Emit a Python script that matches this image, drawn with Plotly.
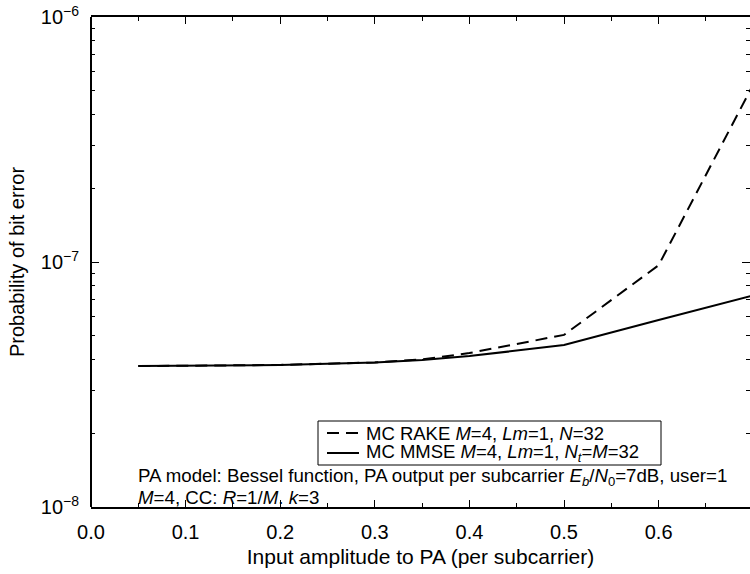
import plotly.graph_objects as go

x_vals = [0.05, 0.1, 0.2, 0.3, 0.35, 0.4, 0.5, 0.6, 0.7]
rake_ber = [3.76e-8, 3.78e-8, 3.80e-8, 3.89e-8, 4.0e-8, 4.25e-8, 5.04e-8, 9.7e-8, 5.3e-7]
mmse_ber = [3.76e-8, 3.78e-8, 3.80e-8, 3.89e-8, 3.98e-8, 4.13e-8, 4.58e-8, 5.8e-8, 7.3e-8]

x_tickvals = [0.0, 0.1, 0.2, 0.3, 0.4, 0.5, 0.6]
x_ticktext = ["0.0", "0.1", "0.2", "0.3", "0.4", "0.5", "0.6"]
y_tickvals = [1e-8, 1e-7, 1e-6]
y_ticktext = ["10<sup>\u22128</sup>", "10<sup>\u22127</sup>", "10<sup>\u22126</sup>"]
y_minor = [k * 10 ** e for e in (-8, -7) for k in range(2, 10)]

rake_name = "MC RAKE <i>M</i>=4, <i>Lm</i>=1, <i>N</i>=32"
mmse_name = "MC MMSE <i>M</i>=4, <i>Lm</i>=1, <i>N</i><sub><i>t</i></sub>=<i>M</i>=32"
note1 = "PA model: Bessel function, PA output per subcarrier <i>E</i><sub><i>b</i></sub>/<i>N</i><sub>0</sub>=7dB, user=1"
note2 = "<i>M</i>=4, CC: <i>R</i>=1/<i>M</i>. <i>k</i>=3"

FONT = "Liberation Sans, Arial, Helvetica, sans-serif"
DASH = "12px,7px"

# pixel -> paper helpers (plot area: x 91..750, y 17..507)
def px(p):
    return (p - 91) / 659.0

def py(p):
    return (507 - p) / 490.0

fig = go.Figure()
fig.add_trace(go.Scatter(x=x_vals, y=rake_ber, mode="lines", name=rake_name,
                         line=dict(color="black", width=2, dash=DASH)))
fig.add_trace(go.Scatter(x=x_vals, y=mmse_ber, mode="lines", name=mmse_name,
                         line=dict(color="black", width=2)))

shapes = [
    # left axis line
    dict(type="line", xref="paper", yref="paper", x0=0, x1=0, y0=0, y1=1,
         line=dict(color="black", width=2)),
    # legend box
    dict(type="rect", xref="paper", yref="paper", x0=px(318), x1=px(661), y0=py(465), y1=py(421),
         line=dict(color="black", width=1), fillcolor="white", layer="above"),
    dict(type="line", xref="paper", yref="paper", x0=px(327), x1=px(359), y0=py(433), y1=py(433),
         line=dict(color="black", width=2, dash=DASH), layer="above"),
    dict(type="line", xref="paper", yref="paper", x0=px(327), x1=px(359), y0=py(453), y1=py(453),
         line=dict(color="black", width=2), layer="above"),
]

annotations = [
    dict(text=rake_name, xref="paper", yref="paper", x=px(364), y=py(433),
         xanchor="left", yanchor="middle", showarrow=False, font=dict(size=18.5)),
    dict(text=mmse_name, xref="paper", yref="paper", x=px(364), y=py(453),
         xanchor="left", yanchor="middle", showarrow=False, font=dict(size=18.5)),
    dict(text=note1, xref="paper", yref="paper", x=px(136), y=py(477),
         xanchor="left", yanchor="middle", showarrow=False, font=dict(size=18.7)),
    dict(text=note2, xref="paper", yref="paper", x=px(136), y=py(497),
         xanchor="left", yanchor="middle", showarrow=False, font=dict(size=18.7)),
]

fig.update_layout(
    width=750, height=574,
    margin=dict(l=91, r=0, t=17, b=67),
    paper_bgcolor="white", plot_bgcolor="white",
    font=dict(family=FONT, size=20, color="black"),
    showlegend=False,
    xaxis=dict(range=[0, 0.6966], tickvals=x_tickvals, ticktext=x_ticktext,
               ticks="inside", ticklen=7, tickwidth=1, tickcolor="black",
               showline=True, linewidth=2, linecolor="black", mirror="ticks",
               showgrid=False, zeroline=False, ticklabelstandoff=6,
               minor=dict(dtick=0.05, tick0=0, ticks="inside", ticklen=4, tickcolor="black", showgrid=False),
               title=dict(text="Input amplitude to PA (per subcarrier)", font=dict(size=21), standoff=7)),
    yaxis=dict(type="log", range=[-8, -6], tickvals=y_tickvals, ticktext=y_ticktext,
               ticks="inside", ticklen=8, tickwidth=1, tickcolor="black",
               showline=False, mirror="ticks",
               showgrid=False, zeroline=False, ticklabelstandoff=11,
               minor=dict(tickvals=y_minor, ticks="inside", ticklen=4, tickcolor="black", showgrid=False),
               title=dict(text="Probability of bit error", font=dict(size=20), standoff=10)),
    shapes=shapes,
    annotations=annotations,
)

fig.write_html("out.html")
